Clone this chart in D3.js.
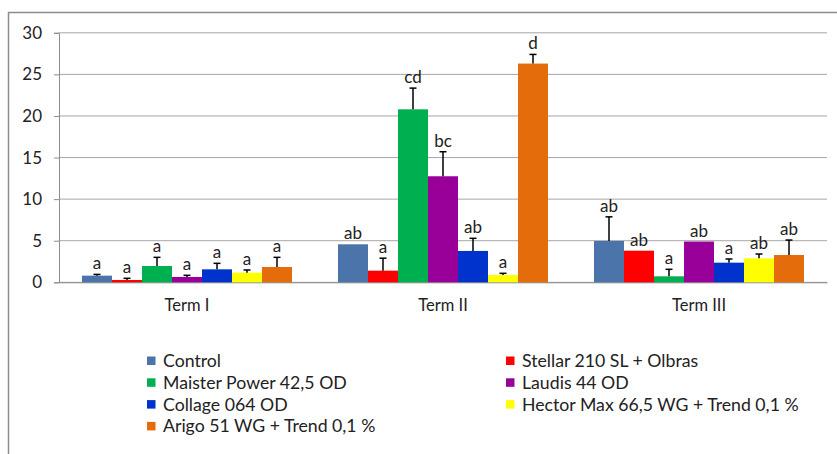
<!DOCTYPE html>
<html>
<head>
<meta charset="utf-8">
<script src="https://cdn.jsdelivr.net/npm/d3@7"></script>
<style>
  body { margin: 0; background: #fff; }
  text { font-family: Lato, "Open Sans", sans-serif; }
</style>
</head>
<body>
<div id="chart"></div>
<script>
var terms = ["Term I", "Term II", "Term III"];

var seriesNames = [
  "Control",
  "Stellar 210 SL + Olbras",
  "Maister Power 42,5 OD",
  "Laudis 44 OD",
  "Collage 064 OD",
  "Hector Max 66,5 WG + Trend 0,1 %",
  "Arigo 51 WG + Trend 0,1 %"
];

var colors = ["#4a74aa", "#ff0000", "#00b050", "#990099", "#0033cc", "#ffff00", "#e46c0a"];

// one row per series, one value per term
var means = [
  [0.8, 4.57, 4.97],
  [0.28, 1.4, 3.8],
  [1.96, 20.8, 0.72],
  [0.64, 12.75, 4.9],
  [1.56, 3.77, 2.36],
  [1.16, 0.88, 2.88],
  [1.84, 26.3, 3.28]
];

var errors = [
  [0.15, 0, 2.9],
  [0.2, 1.5, 0],
  [1.04, 2.55, 0.84],
  [0.2, 2.95, 0],
  [0.72, 1.52, 0.44],
  [0.32, 0.2, 0.52],
  [1.16, 1.1, 1.8]
];

var letters = [
  ["a", "ab", "ab"],
  ["a", "a", "ab"],
  ["a", "cd", "a"],
  ["a", "bc", "ab"],
  ["a", "ab", "a"],
  ["a", "a", "ab"],
  ["a", "d", "ab"]
];

var yTicks = [0, 5, 10, 15, 20, 25, 30];

var width = 837, height = 454;

var svg = d3.select("#chart").append("svg")
  .attr("width", width)
  .attr("height", height);

// outer frame (runs off the right and bottom edge)
svg.append("rect")
  .attr("x", 8.5).attr("y", 12.5)
  .attr("width", 840).attr("height", 460)
  .attr("fill", "none")
  .attr("stroke", "#8c8c8c")
  .attr("stroke-width", 1.5);

var plotL = 59, plotR = 827, plotT = 32.8, plotB = 282.3;

var x = d3.scaleBand().domain(terms).range([plotL, plotR]);
var xs = d3.scaleBand().domain(d3.range(seriesNames.length)).range([23, 233]);
var y = d3.scaleLinear().domain([0, 30]).range([plotB, plotT]);

// gridlines
svg.append("g").selectAll("line")
  .data(yTicks)
  .enter().append("line")
  .attr("x1", plotL).attr("x2", plotR)
  .attr("y1", function(d) { return y(d); })
  .attr("y2", function(d) { return y(d); })
  .attr("stroke", "#a6a6a6")
  .attr("stroke-width", 1);

var yAxis = svg.append("g")
  .attr("transform", "translate(" + plotL + ",0)")
  .call(d3.axisLeft(y).tickValues(yTicks).tickSize(5).tickPadding(12));
yAxis.select(".domain").attr("stroke", "#8c8c8c");
yAxis.selectAll(".tick line").attr("stroke", "#8c8c8c");
yAxis.selectAll("text")
  .attr("font-size", "17px")
  .attr("fill", "#222")
  .style("font-family", "Lato, sans-serif");

var xAxis = svg.append("g")
  .attr("transform", "translate(0," + plotB + ")")
  .call(d3.axisBottom(x).tickSize(0).tickPadding(17));
xAxis.select(".domain").attr("stroke", "#8c8c8c");
xAxis.selectAll("text")
  .attr("font-size", "16.5px")
  .attr("fill", "#222")
  .style("font-family", "Lato, sans-serif");

// flatten into one record per bar
var bars = [];
seriesNames.forEach(function(name, s) {
  terms.forEach(function(t, i) {
    bars.push({ s: s, term: t, v: means[s][i], e: errors[s][i], lab: letters[s][i] });
  });
});

var g = svg.append("g");

g.selectAll("rect.bar")
  .data(bars)
  .enter().append("rect")
  .attr("class", "bar")
  .attr("x", function(d) { return x(d.term) + xs(d.s); })
  .attr("y", function(d) { return y(d.v); })
  .attr("width", xs.bandwidth())
  .attr("height", function(d) { return y(0) - y(d.v); })
  .attr("fill", function(d) { return colors[d.s]; });

var withErr = bars.filter(function(d) { return d.e > 0; });

g.selectAll("line.err")
  .data(withErr)
  .enter().append("line")
  .attr("class", "err")
  .attr("x1", function(d) { return x(d.term) + xs(d.s) + xs.bandwidth() / 2; })
  .attr("x2", function(d) { return x(d.term) + xs(d.s) + xs.bandwidth() / 2; })
  .attr("y1", function(d) { return y(d.v); })
  .attr("y2", function(d) { return y(d.v + d.e); })
  .attr("stroke", "#000")
  .attr("stroke-width", 1.5);

g.selectAll("line.cap")
  .data(withErr)
  .enter().append("line")
  .attr("class", "cap")
  .attr("x1", function(d) { return x(d.term) + xs(d.s) + xs.bandwidth() / 2 - 3.5; })
  .attr("x2", function(d) { return x(d.term) + xs(d.s) + xs.bandwidth() / 2 + 3.5; })
  .attr("y1", function(d) { return y(d.v + d.e); })
  .attr("y2", function(d) { return y(d.v + d.e); })
  .attr("stroke", "#000")
  .attr("stroke-width", 1.5);

g.selectAll("text.lab")
  .data(bars)
  .enter().append("text")
  .attr("class", "lab")
  .attr("x", function(d) { return x(d.term) + xs(d.s) + xs.bandwidth() / 2; })
  .attr("y", function(d) { return y(d.v + d.e) - 5; })
  .attr("text-anchor", "middle")
  .attr("font-size", "17px")
  .attr("fill", "#222")
  .text(function(d) { return d.lab; });

// legend, two columns
var legend = svg.append("g");
var item = legend.selectAll("g")
  .data(seriesNames)
  .enter().append("g")
  .attr("transform", function(d, i) {
    var col = i % 2, row = Math.floor(i / 2);
    return "translate(" + (col === 0 ? 147 : 506) + "," + (361 + row * 21.8) + ")";
  });

item.append("rect")
  .attr("x", 0).attr("y", -4.5)
  .attr("width", 8.5).attr("height", 8.5)
  .attr("fill", function(d, i) { return colors[i]; });

item.append("text")
  .attr("x", 16)
  .attr("y", 6)
  .attr("font-size", "17.7px")
  .attr("fill", "#222")
  .text(function(d) { return d; });
</script>
</body>
</html>
